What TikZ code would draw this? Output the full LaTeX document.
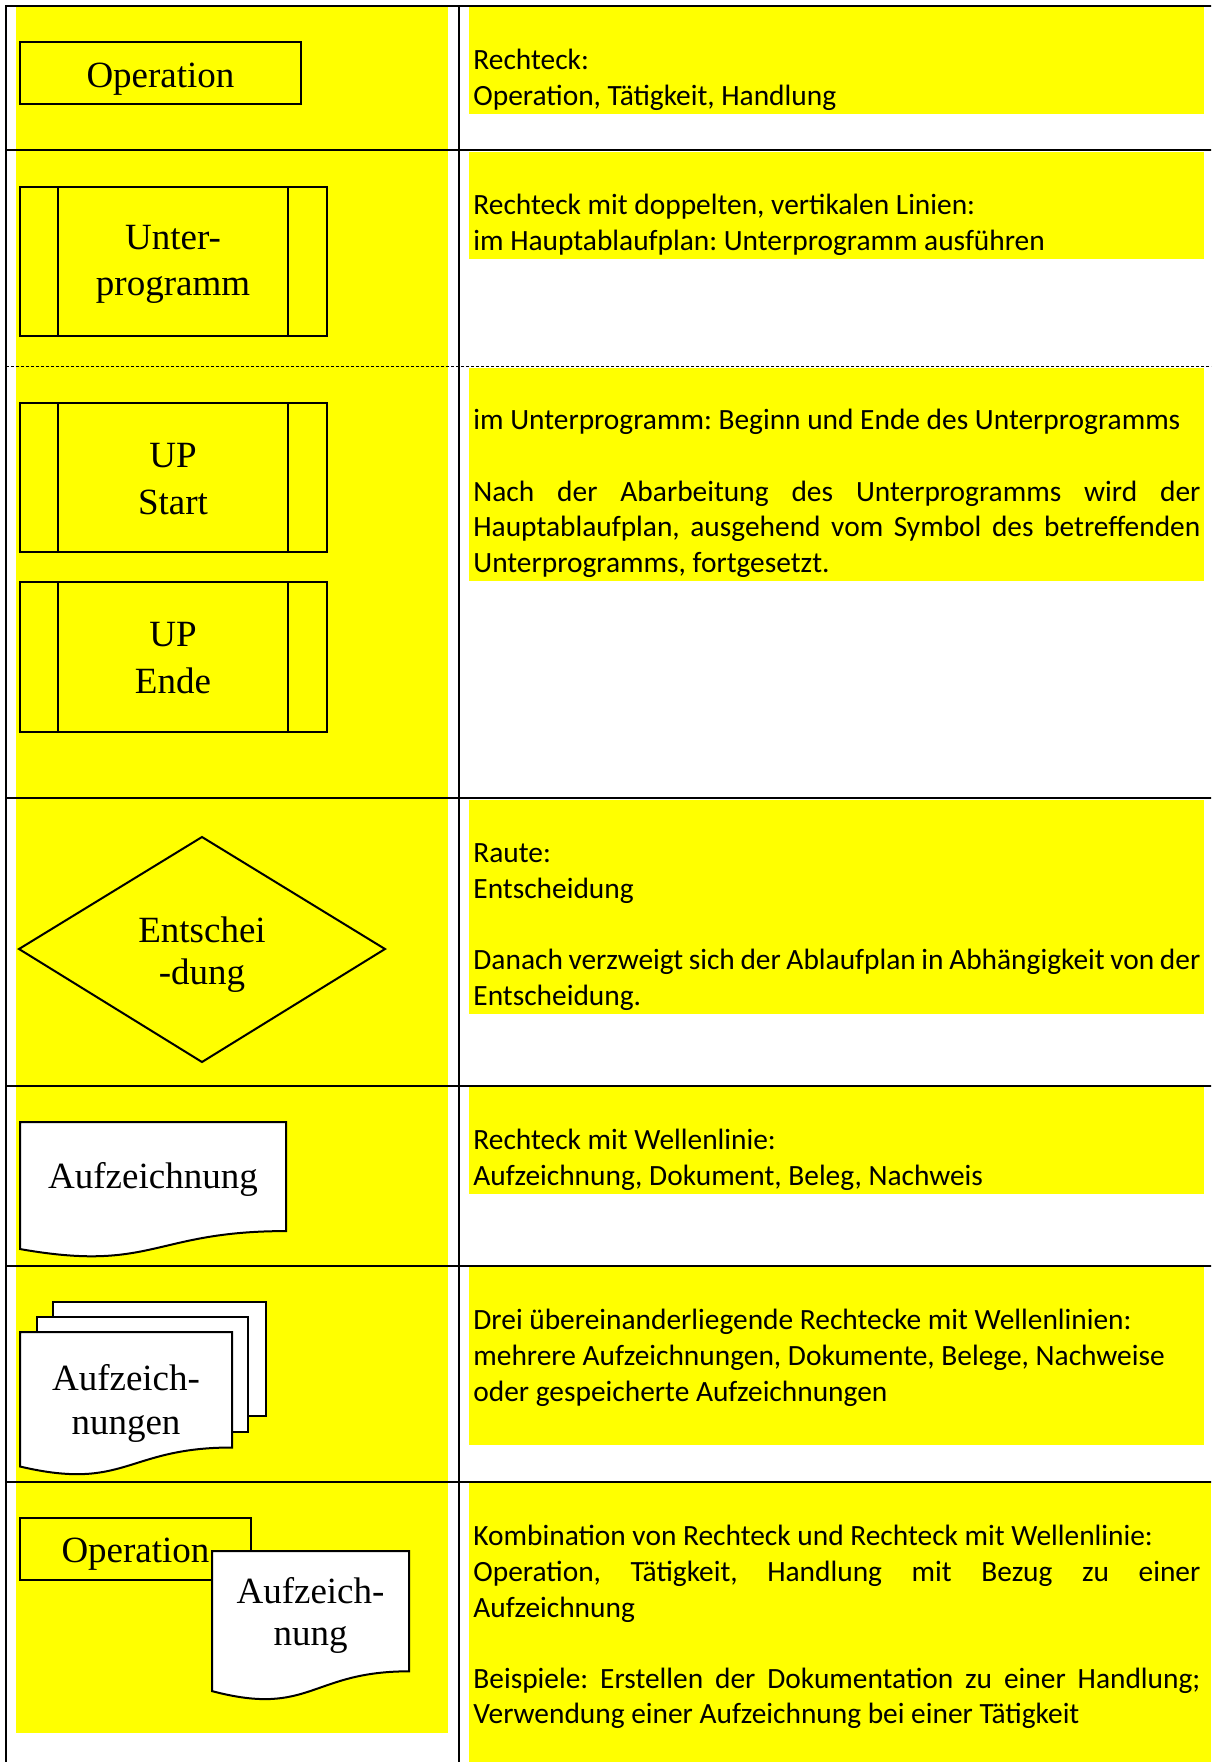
\documentclass[tikz,border=0pt]{standalone}
\usepackage{fontspec}
\setmainfont{Liberation Serif}
\newfontfamily\calfont{Carlito}
\definecolor{yel}{RGB}{255,255,0}
\newcommand\jline[1]{\makebox[363.5pt][s]{#1}}
\newcommand\docpath[4]{(#1,#2) -- ({#1+#3},#2) -- ({#1+#3},{#2+0.802*#4}) .. controls ({#1+0.5*#3},{#2+0.802*#4}) and ({#1+0.5*#3},{#2+1.1075*#4}) .. (#1,{#2+0.934*#4}) -- cycle}
\tikzset{
  band/.style={fill=yel, draw=none},
  gridline/.style={line width=1pt, draw=black},
  symline/.style={line width=1pt, draw=black, line join=miter},
  docline/.style={line width=1pt, draw=black, fill=white},
  symtxt/.style={font=\fontsize{18.5}{21}\selectfont, inner sep=0pt, anchor=base},
  desc/.style={font=\calfont\fontsize{14.7}{17.8}\selectfont\frenchspacing, inner sep=0pt, anchor=base west},
}
\frenchspacing
\begin{document}
\begin{tikzpicture}[x=0.5pt,y=-0.5pt]
\useasboundingbox (0,0) rectangle (1211,1762);
\clip (0,0) rectangle (1211,1762);
\fill[white] (0,0) rectangle (1211,1762);
% yellow shading
\path[band] (16,7) rectangle (448,1733);
\path[band] (469,7) rectangle (1204,113.8);
\path[band] (469,152) rectangle (1204,258.8);
\path[band] (469,367.5) rectangle (1204,580.6);
\path[band] (469,800) rectangle (1204,1013.6);
\path[band] (469,1087) rectangle (1204,1193.8);
\path[band] (469,1267) rectangle (1204,1445);
\path[band] (469,1483) rectangle (1211,1762);
% table lines
\draw[gridline] (6,1770) -- (6,6) -- (1220,6);
\draw[gridline] (459,6) -- (459,1770);
\draw[gridline] (6,150) -- (1220,150);
\draw[line width=0.5pt, dash pattern=on 1.5pt off 1pt] (6,366) -- (1220,366);
\draw[gridline] (6,798) -- (1220,798);
\draw[gridline] (6,1085.5) -- (1220,1085.5);
\draw[gridline] (6,1266) -- (1220,1266);
\draw[gridline] (6,1482) -- (1220,1482);
% row 1: operation
\draw[symline] (20,42) rectangle (301,104);
\node[symtxt] (op1) at (160.5,87) {Operation};
% row 2: subprogram
\draw[symline] (20,187) rectangle (327,336) (58,187) -- (58,336) (288,187) -- (288,336);
\node[symtxt] (up1a) at (173,249) {Unter-};
\node[symtxt] (up1b) at (173,295) {programm};
% row 3: UP Start / UP Ende
\draw[symline] (20,403) rectangle (327,552) (58,403) -- (58,552) (288,403) -- (288,552);
\node[symtxt] (ups1) at (173,467) {UP};
\node[symtxt] (ups2) at (173,514) {Start};
\draw[symline] (20,582) rectangle (327,732) (58,582) -- (58,732) (288,582) -- (288,732);
\node[symtxt] (upe1) at (173,646) {UP};
\node[symtxt] (upe2) at (173,693) {Ende};
% row 4: decision
\draw[symline] (19,949) -- (202,837) -- (385,949) -- (202,1062) -- cycle;
\node[symtxt] (dec1) at (202,942) {Entschei};
\node[symtxt] (dec2) at (202,984) {-dung};
% row 5: document
\draw[docline] \docpath{20}{1122}{266}{136};
\node[symtxt] (doc1) at (153,1188) {Aufzeichnung};
% row 6: multi document
\draw[docline] (53,1302) rectangle (266,1416);
\draw[docline] (37,1317) rectangle (248,1432);
\draw[docline] \docpath{20}{1332}{212}{144};
\node[symtxt] (mdoc1) at (126,1390) {Aufzeich-};
\node[symtxt] (mdoc2) at (126,1434) {nungen};
% row 7: combination
\draw[symline] (20,1518) rectangle (251,1580);
\node[symtxt] (op2) at (135.5,1562) {Operation};
\draw[docline] \docpath{212}{1551}{197}{150};
\node[symtxt] (cdoc1) at (310.5,1603) {Aufzeich-};
\node[symtxt] (cdoc2) at (310.5,1645) {nung};
% descriptions
\node[desc] (t1a) at (473,69.9) {Rechteck:};
\node[desc] (t1b) at (473,105.5) {Operation, Tätigkeit, Handlung};
\node[desc] (t2a) at (473,214.9) {Rechteck mit doppelten, vertikalen Linien:};
\node[desc] (t2b) at (473,250.5) {im Hauptablaufplan: Unterprogramm ausführen};
\node[desc] (t3a) at (473,429.9) {im Unterprogramm: Beginn und Ende des Unterprogramms};
\node[desc] (t3b) at (473,501.1) {\jline{Nach der Abarbeitung des Unterprogramms wird der}};
\node[desc] (t3c) at (473,536.7) {\jline{Hauptablaufplan, ausgehend vom Symbol des betreffenden}};
\node[desc] (t3d) at (473,572.3) {Unterprogramms, fortgesetzt.};
\node[desc] (t4a) at (473,862.9) {Raute:};
\node[desc] (t4b) at (473,898.5) {Entscheidung};
\node[desc] (t4c) at (473,969.7) {\jline{Danach verzweigt sich der Ablaufplan in Abhängigkeit von der}};
\node[desc] (t4d) at (473,1005.3) {Entscheidung.};
\node[desc] (t5a) at (473,1149.9) {Rechteck mit Wellenlinie:};
\node[desc] (t5b) at (473,1185.5) {Aufzeichnung, Dokument, Beleg, Nachweis};
\node[desc] (t6a) at (473,1329.9) {Drei übereinanderliegende Rechtecke mit Wellenlinien:};
\node[desc] (t6b) at (473,1365.5) {mehrere Aufzeichnungen, Dokumente, Belege, Nachweise};
\node[desc] (t6c) at (473,1401.1) {oder gespeicherte Aufzeichnungen};
\node[desc] (t7a) at (473,1545.9) {Kombination von Rechteck und Rechteck mit Wellenlinie:};
\node[desc] (t7b) at (473,1581.5) {\jline{Operation, Tätigkeit, Handlung mit Bezug zu einer}};
\node[desc] (t7c) at (473,1617.1) {Aufzeichnung};
\node[desc] (t7d) at (473,1688.3) {\jline{Beispiele: Erstellen der Dokumentation zu einer Handlung;}};
\node[desc] (t7e) at (473,1723.9) {Verwendung einer Aufzeichnung bei einer Tätigkeit};
\end{tikzpicture}
\end{document}
